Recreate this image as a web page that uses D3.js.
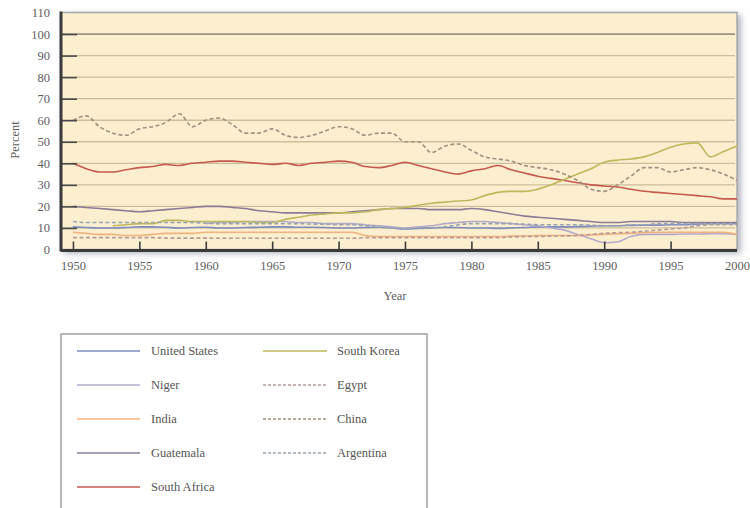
<!DOCTYPE html>
<html>
<head>
<meta charset="utf-8">
<script src="https://cdn.jsdelivr.net/npm/d3@7"></script>
<style>
  html, body { margin: 0; padding: 0; background: #ffffff; }
  svg { display: block; }
  text { font-family: "Liberation Serif", "Times New Roman", serif; }
</style>
</head>
<body>
<svg id="chart" width="750" height="508"></svg>
<script>
// ---------- DATA ----------
const years = [1950,1951,1952,1953,1954,1955,1956,1957,1958,1959,
               1960,1961,1962,1963,1964,1965,1966,1967,1968,1969,
               1970,1971,1972,1973,1974,1975,1976,1977,1978,1979,
               1980,1981,1982,1983,1984,1985,1986,1987,1988,1989,
               1990,1991,1992,1993,1994,1995,1996,1997,1998,1999,2000];

const unitedStates = [10.5,10.2,10,10,10.2,10.5,10.5,10.3,10,10.2,
                      10.3,10,10,10.2,10.3,10.5,10.5,10.3,10.3,10.2,
                      10,10,10.2,10.3,10,9.5,9.8,10,10.2,10.2,
                      10,10,9.8,10,10.2,10.5,10.5,10.5,10.6,10.8,
                      11,11,11.2,11.3,11.3,11.5,11.5,11.8,12,12,12];
const niger = [null,null,null,null,null,null,null,null,null,null,
               12,12.5,12.5,13,13,13,13,12.5,12.5,12,
               12,12,11.5,11,10.5,10,10.5,11,12,12.5,
               13,13,12.5,12,11.5,11,10,9,7,5,
               3.2,3.5,6,7,7,7,7.2,7.2,7.3,7.3,7];
const india = [8,7.5,7,7,6.5,6.5,7,7.5,7.5,7.5,
               8,8,8,8,8,8,8,8,8,8,
               8,8,6.5,6,6,6,6,6,6,6,
               6,6,6,6.2,6.3,6.5,6.5,6.5,6.5,6.8,
               7,7.3,7.5,7.8,8,8,8,8,8,8,7];
const guatemala = [20,19.5,19,18.5,18,17.5,18,18.5,19,19.5,
                   20,20,19.5,19,18,17.5,17,17,17,17,
                   17,17.5,18,18.5,19,19,19,18.5,18.5,18.5,
                   19,18.5,17.5,16.5,15.5,15,14.5,14,13.5,13,
                   12.5,12.5,13,13,13,13,12.5,12.5,12.5,12.5,12.5];
const southAfrica = [40,37.5,36,36,37,38,38.5,39.5,39,40,
                     40.5,41,41,40.5,40,39.5,40,39,40,40.5,
                     41,40.5,38.5,38,39,40.5,39,37.5,36,35,
                     36.5,37.5,39,37,35.5,34,33,32,31,30,
                     29.5,29,28,27,26.5,26,25.5,25,24.5,23.5,23.5];
const southKorea = [null,null,null,11,11.5,12,12,13.5,13.5,13,
                    13,13,13,13,12.5,12.5,14,15,16,16.5,
                    17,17,17.5,18.5,19,19.5,20.5,21.5,22,22.5,
                    23,25,26.5,27,27,28,30,32.5,35,37.5,
                    40.5,41.5,42,43,45,47.5,49,49.5,43,45.5,48];
const egypt = [5.5,5.5,5.5,5.5,5.5,5.5,5.5,5.3,5.3,5.3,
               5.3,5.2,5.2,5.2,5.2,5.2,5.2,5.2,5.2,5.2,
               5.2,5.2,5.5,5.5,5.5,5.5,5.5,5.5,5.5,5.5,
               5.5,5.5,5.5,5.8,6,6,6.2,6.3,6.5,7,
               7.5,7.8,8,8.5,9,9.5,10,11,11.5,11.5,11.5];
const china = [60,62,57,54,53,56,57,59,63,57,
               60,61,58,54,54,56,53,52,53,55,
               57,56,53,54,54,50,50,45,48,49,
               46,43,42,41,39,38,37,35,32,28,
               27,30,34,38,38,36,37,38,37,35,32];
const argentina = [13,12.5,12.5,12.5,12.5,12.5,12.5,12.5,12.5,12.5,
                   12.2,12,12,12,12,12,12,12,11.8,11.8,
                   11.5,11.5,11,10.5,10,9.5,10,10,10.5,11.5,
                   12,12,12,12,11.8,11.5,11.5,11.5,11.5,11.3,
                   11,11,11.5,11.5,12,12,12,12,12,12,12];

const seriesNames = ["United States","Niger","India","Guatemala","South Africa",
                     "South Korea","Egypt","China","Argentina"];
const seriesValues = [unitedStates, niger, india, guatemala, southAfrica,
                      southKorea, egypt, china, argentina];
const seriesColors = ["#7e8cc0","#b4abcb","#f0b37e","#8c7c98","#c65a4e",
                      "#bdb85e","#b59a98","#a0907f","#98a4b0"];
const seriesDashed = [false,false,false,false,false,false,true,true,true];

const yTicks = [0,10,20,30,40,50,60,70,80,90,100,110];
const xTicks = [1950,1955,1960,1965,1970,1975,1980,1985,1990,1995,2000];

// ---------- LAYOUT ----------
const svg = d3.select("#chart");
const L = 61, R = 737, T = 12.5, B = 249.5;

const x = d3.scaleLinear().domain([1949.1, 2000]).range([L, R]);
const y = d3.scaleLinear().domain([0, 110]).range([B, T]);

const defs = svg.append("defs");
const f = defs.append("filter").attr("id","shadow")
  .attr("x","-5%").attr("y","-10%").attr("width","110%").attr("height","125%");
f.append("feDropShadow").attr("dx",3).attr("dy",3).attr("stdDeviation",3)
  .attr("flood-color","#6a6f85").attr("flood-opacity",0.55);

// plot panel
svg.append("rect").attr("x",L).attr("y",T).attr("width",R-L).attr("height",B-T)
  .attr("fill","#fcefcf").attr("stroke","#a8a8a8").attr("stroke-width",1.5)
  .attr("filter","url(#shadow)");

// gridlines
svg.append("g").selectAll("line").data(yTicks.filter(d => d > 0 && d < 110)).join("line")
  .attr("x1",L).attr("x2",R-2)
  .attr("y1",d => y(d)).attr("y2",d => y(d))
  .attr("stroke",d => d === 100 ? "#9c927f" : "#cdbd9c")
  .attr("stroke-width",d => d === 100 ? 1.8 : 1.3);

// series
const line = d3.line()
  .defined(d => d[1] !== null)
  .x(d => x(d[0])).y(d => y(d[1]))
  .curve(d3.curveMonotoneX);

const gSeries = svg.append("g");
seriesValues.forEach((vals, i) => {
  gSeries.append("path")
    .datum(years.map((yr, j) => [yr, vals[j]]))
    .attr("fill","none")
    .attr("stroke",seriesColors[i])
    .attr("stroke-width",1.6)
    .attr("stroke-dasharray",seriesDashed[i] ? "4,2.5" : null)
    .attr("d",line);
});

// y axis
const yAxis = d3.axisLeft(y).tickValues(yTicks).tickSize(-16).tickPadding(11)
  .tickFormat(d3.format("d"));
const gy = svg.append("g").attr("transform",`translate(${L},0)`).call(yAxis);
gy.select(".domain").remove();
gy.selectAll(".tick line").attr("stroke","#4a4a4a").attr("stroke-width",1.6)
  .attr("x1",1);
gy.selectAll(".tick").filter(d => d === 0 || d === 110).select("line").remove();
gy.selectAll("text").attr("fill","#5e5e5e").style("font-size","12.5px")
  .style("font-family","'Liberation Serif', serif");

// x axis
const xAxis = d3.axisBottom(x).tickValues(xTicks).tickSize(-9).tickPadding(11)
  .tickFormat(d3.format("d"));
const gx = svg.append("g").attr("transform",`translate(0,${B + 1})`).call(xAxis);
gx.select(".domain").remove();
gx.selectAll(".tick line").attr("stroke","#3d3d3d").attr("stroke-width",1.6);
gx.selectAll(".tick").filter(d => d === 2000).select("line").remove();
gx.selectAll("text").attr("fill","#5e5e5e").style("font-size","12.5px")
  .style("font-family","'Liberation Serif', serif");

// axis lines
svg.append("line").attr("x1",L).attr("x2",L).attr("y1",T - 1).attr("y2",B + 2)
  .attr("stroke","#3a3a3a").attr("stroke-width",3);
svg.append("line").attr("x1",L).attr("x2",R).attr("y1",B + 1).attr("y2",B + 1)
  .attr("stroke","#3a3a3a").attr("stroke-width",3);

// axis titles
svg.append("text").attr("x",395).attr("y",300).attr("text-anchor","middle")
  .attr("fill","#5e5e5e").style("font-size","12.5px").text("Year");
svg.append("text").attr("transform","translate(19,140) rotate(-90)")
  .attr("text-anchor","middle").attr("fill","#5e5e5e").style("font-size","12.5px")
  .text("Percent");

// legend
const lg = svg.append("g");
lg.append("rect").attr("x",61).attr("y",334).attr("width",366).attr("height",190)
  .attr("fill","#ffffff").attr("stroke","#a0a0a0").attr("stroke-width",1.5);
const legendItems = seriesNames.map((n, i) => ({
  name: n, color: seriesColors[i], dashed: seriesDashed[i],
  col: i < 5 ? 0 : 1, row: i < 5 ? i : i - 5
}));
const colX = [[77,140,151],[263,327,337]];
const rowY = r => 351 + r * 34;
const li = lg.selectAll("g.item").data(legendItems).join("g").attr("class","item");
li.append("line")
  .attr("x1",d => colX[d.col][0]).attr("x2",d => colX[d.col][1])
  .attr("y1",d => rowY(d.row)).attr("y2",d => rowY(d.row))
  .attr("stroke",d => d.color).attr("stroke-width",1.6)
  .attr("stroke-dasharray",d => d.dashed ? "3,2" : null);
li.append("text")
  .attr("x",d => colX[d.col][2]).attr("y",d => rowY(d.row)).attr("dy","0.35em")
  .attr("fill","#555").style("font-size","12.5px")
  .text(d => d.name);
</script>
</body>
</html>
